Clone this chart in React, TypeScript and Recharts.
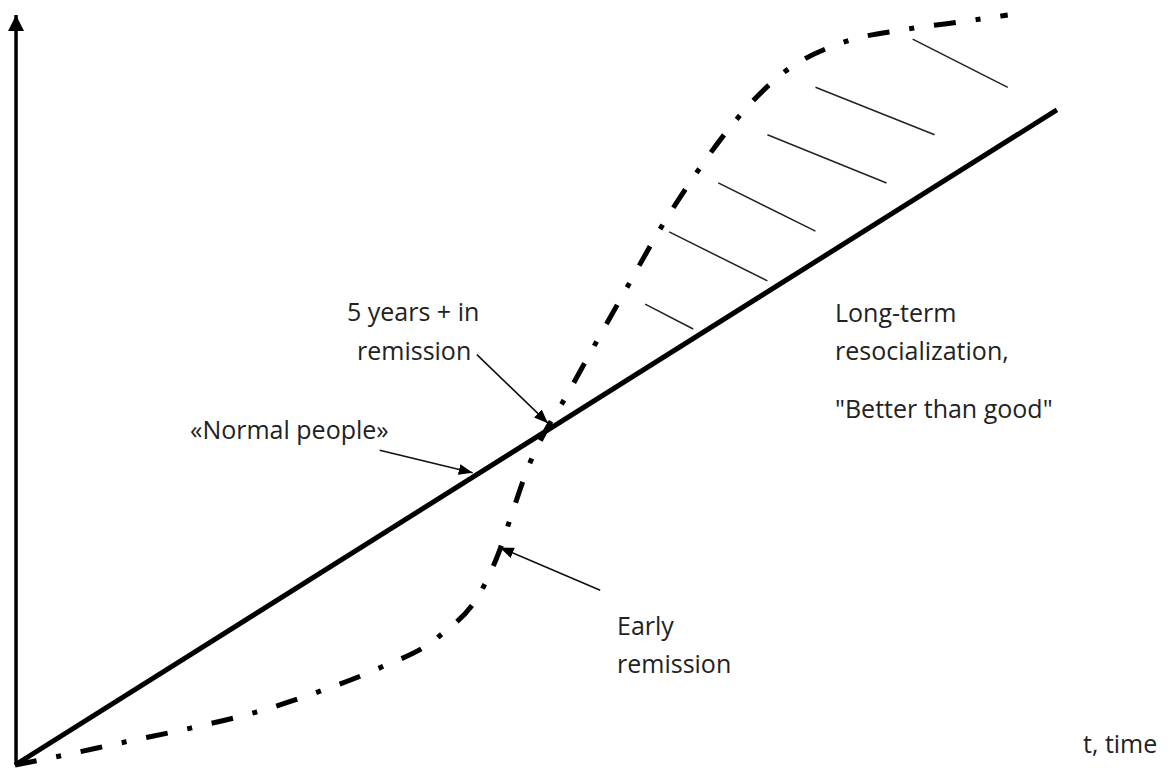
import { LineChart, Line, XAxis, YAxis, ReferenceLine } from 'recharts';

// time axis positions (arbitrary units, 0..100) and curve values
const normalTime = [0, 99.7];
const normalLevel = [0, 87];

const remissionTime = [
  0, 4.3, 10.5, 16.8, 23.0, 29.0, 34.9, 40.5, 44.8, 46.4, 47.2, 49.3, 50.7, 52.3,
  55.4, 58.6, 61.7, 65.2, 68.9, 73.4, 79.1, 85.3, 91.6, 95.0,
];
const remissionLevel = [
  0, 1.2, 3.05, 4.9, 7.0, 9.7, 12.9, 17.0, 23.6, 28.6, 31.9, 40.2, 44.2, 47.9,
  55.6, 63.5, 71.1, 78.6, 85.5, 91.8, 95.9, 97.7, 98.9, 99.6,
];

// hatch strokes between the two curves
const hatchStartT = [60.3, 62.6, 67.3, 72.0, 76.6, 85.9];
const hatchStartV = [61.2, 70.8, 77.3, 83.7, 90.0, 96.4];
const hatchEndT = [64.9, 72.0, 76.6, 83.4, 88.0, 95.0];
const hatchEndV = [57.9, 64.3, 70.9, 77.3, 83.7, 90.0];

// annotation arrows: [fromT, fromV, toT, toV]
const arrowNormal = [34.9, 41.8, 43.8, 38.8];
const arrowFiveYears = [44.2, 54.5, 51.0, 45.4];
const arrowEarly = [56.0, 23.2, 46.4, 28.9];

const normalData = normalTime.map((t, i) => ({ t, v: normalLevel[i] }));
const remissionData = remissionTime.map((t, i) => ({ t, v: remissionLevel[i] }));

const font = { fontFamily: 'Open Sans', fontSize: 25, fill: '#222' };

function Arrow({ a }: { a: number[] }) {
  return (
    <ReferenceLine
      segment={[{ x: a[0], y: a[1] }, { x: a[2], y: a[3] }]}
      stroke="#111"
      strokeWidth={1.6}
      markerEnd="url(#headSmall)"
      ifOverflow="visible"
    />
  );
}

export default function App() {
  return (
    <div style={{ position: 'absolute', left: 0, top: 0, background: '#fff' }}>
      <LineChart
        width={1174}
        height={768}
        margin={{ top: 12, right: 114, bottom: 3, left: 15 }}
      >
        <defs>
          <marker id="headBig" viewBox="0 0 16 16" refX="16" refY="8" markerWidth="16" markerHeight="16" markerUnits="userSpaceOnUse" orient="auto">
            <path d="M0,0 L16,8 L0,16 z" fill="#000" />
          </marker>
          <marker id="headSmall" viewBox="0 0 14 11" refX="14" refY="5.5" markerWidth="14" markerHeight="11" markerUnits="userSpaceOnUse" orient="auto">
            <path d="M0,0 L14,5.5 L0,11 z" fill="#000" />
          </marker>
        </defs>
        <XAxis type="number" dataKey="t" domain={[0, 100]} hide allowDuplicatedCategory={false} />
        <YAxis type="number" domain={[0, 100]} hide />

        <ReferenceLine
          segment={[{ x: 0.1, y: 0 }, { x: 0.1, y: 99.6 }]}
          stroke="#000"
          strokeWidth={3.5}
          markerEnd="url(#headBig)"
          ifOverflow="visible"
        />

        {hatchStartT.map((t, i) => (
          <ReferenceLine
            key={i}
            segment={[{ x: t, y: hatchStartV[i] }, { x: hatchEndT[i], y: hatchEndV[i] }]}
            stroke="#222"
            strokeWidth={1.5}
            ifOverflow="visible"
          />
        ))}

        <Line
          data={normalData}
          dataKey="v"
          type="linear"
          stroke="#000"
          strokeWidth={5}
          dot={false}
          activeDot={false}
          isAnimationActive={false}
        />
        <Line
          data={remissionData}
          dataKey="v"
          type="monotone"
          stroke="#000"
          strokeWidth={5}
          strokeDasharray="22 20 5 20"
          dot={false}
          activeDot={false}
          isAnimationActive={false}
        />

        <Arrow a={arrowNormal} />
        <Arrow a={arrowFiveYears} />
        <Arrow a={arrowEarly} />

        <text x={347} y={321} {...font}>5 years + in</text>
        <text x={357} y={360} {...font}>remission</text>
        <text x={190} y={439} {...font}>«Normal people»</text>
        <text x={617} y={635} {...font}>Early</text>
        <text x={617} y={673} {...font}>remission</text>
        <text x={835} y={322} {...font}>Long-term</text>
        <text x={835} y={360} {...font}>resocialization,</text>
        <text x={835} y={418} {...font}>"Better than good"</text>
        <text x={1083} y={753} {...font}>t, time</text>
      </LineChart>
    </div>
  );
}
